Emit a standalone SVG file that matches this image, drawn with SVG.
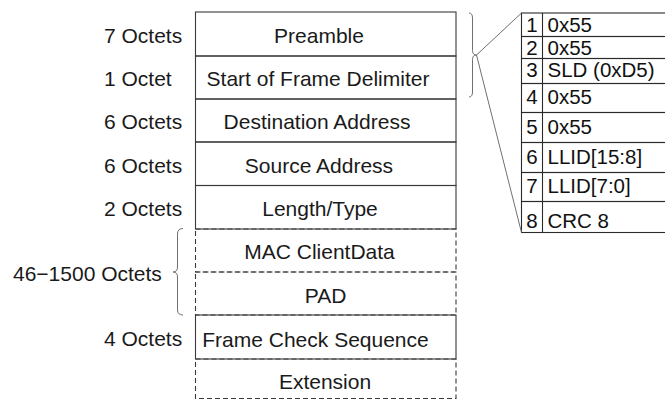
<svg xmlns="http://www.w3.org/2000/svg" width="665" height="399" viewBox="0 0 665 399">
<style>
  .t { font-family: "Liberation Sans", Arial, sans-serif; font-size: 21px; fill: #1a1a1a; }
  .m { text-anchor: middle; }
  .r { font-family: "Liberation Sans", Arial, sans-serif; font-size: 20.5px; fill: #111; }
  .solid { fill: none; stroke: #3a3a3a; stroke-width: 1.1; }
  .dash { fill: none; stroke: #3a3a3a; stroke-width: 1.1; stroke-dasharray: 5 3; }
  .cell { fill: none; stroke: #2a2a2a; stroke-width: 1.1; }
  .conn { fill: none; stroke: #707070; stroke-width: 1; }
</style>
<rect x="0" y="0" width="665" height="399" fill="#ffffff"/>

<g id="labels">
  <text class="t" x="104" y="43">7 Octets</text>
  <text class="t" x="104" y="86">1 Octet</text>
  <text class="t" x="104" y="129">6 Octets</text>
  <text class="t" x="104" y="173">6 Octets</text>
  <text class="t" x="104" y="216">2 Octets</text>
  <text class="t" x="13" y="281">46−1500 Octets</text>
  <text class="t" x="104" y="346">4 Octets</text>
</g>

<g id="preamble">
  <rect class="solid" x="195.5" y="12" width="260.5" height="44"/>
  <text class="t m" x="319" y="43">Preamble</text>
</g>
<g id="sfd">
  <rect class="solid" x="195.5" y="56" width="260.5" height="43"/>
  <text class="t m" x="318" y="86">Start of Frame Delimiter</text>
</g>
<g id="dest">
  <rect class="solid" x="195.5" y="99" width="260.5" height="43"/>
  <text class="t m" x="317" y="129">Destination Address</text>
</g>
<g id="src">
  <rect class="solid" x="195.5" y="142" width="260.5" height="43.5"/>
  <text class="t m" x="319" y="173">Source Address</text>
</g>
<g id="lentype">
  <rect class="solid" x="195.5" y="185.5" width="260.5" height="43.5"/>
  <text class="t m" x="320" y="216">Length/Type</text>
</g>
<g id="macdata">
  <rect class="dash" x="195.5" y="229" width="260.5" height="43"/>
  <text class="t m" x="319.5" y="259">MAC ClientData</text>
</g>
<g id="pad">
  <rect class="dash" x="195.5" y="272" width="260.5" height="43"/>
  <text class="t m" x="325.5" y="303">PAD</text>
</g>
<g id="fcs">
  <rect class="solid" x="195.5" y="315" width="260.5" height="44"/>
  <text class="t m" x="315.5" y="346.5">Frame Check Sequence</text>
</g>
<g id="extension">
  <rect class="dash" x="195.5" y="359" width="260.5" height="39.5"/>
  <text class="t m" x="325" y="389">Extension</text>
</g>

<g id="row1">
  <rect class="cell" x="521.5" y="13" width="160" height="23.5"/>
  <line class="cell" x1="542.5" y1="13" x2="542.5" y2="36.5"/>
  <text class="r m" x="532" y="32">1</text><text class="r" x="547.5" y="32">0x55</text>
</g>
<g id="row2">
  <rect class="cell" x="521.5" y="36.5" width="160" height="22"/>
  <line class="cell" x1="542.5" y1="36.5" x2="542.5" y2="58.5"/>
  <text class="r m" x="532" y="55">2</text><text class="r" x="547.5" y="55">0x55</text>
</g>
<g id="row3">
  <rect class="cell" x="521.5" y="58.5" width="160" height="25"/>
  <line class="cell" x1="542.5" y1="58.5" x2="542.5" y2="83.5"/>
  <text class="r m" x="532" y="77">3</text><text class="r" x="547.5" y="77">SLD (0xD5)</text>
</g>
<g id="row4">
  <rect class="cell" x="521.5" y="83.5" width="160" height="29"/>
  <line class="cell" x1="542.5" y1="83.5" x2="542.5" y2="112.5"/>
  <text class="r m" x="532" y="104">4</text><text class="r" x="547.5" y="104">0x55</text>
</g>
<g id="row5">
  <rect class="cell" x="521.5" y="112.5" width="160" height="30"/>
  <line class="cell" x1="542.5" y1="112.5" x2="542.5" y2="142.5"/>
  <text class="r m" x="532" y="134">5</text><text class="r" x="547.5" y="134">0x55</text>
</g>
<g id="row6">
  <rect class="cell" x="521.5" y="142.5" width="160" height="30"/>
  <line class="cell" x1="542.5" y1="142.5" x2="542.5" y2="172.5"/>
  <text class="r m" x="532" y="164">6</text><text class="r" x="547.5" y="164">LLID[15:8]</text>
</g>
<g id="row7">
  <rect class="cell" x="521.5" y="172.5" width="160" height="29"/>
  <line class="cell" x1="542.5" y1="172.5" x2="542.5" y2="201.5"/>
  <text class="r m" x="532" y="193">7</text><text class="r" x="547.5" y="193">LLID[7:0]</text>
</g>
<g id="row8">
  <rect class="cell" x="521.5" y="201.5" width="160" height="31"/>
  <line class="cell" x1="542.5" y1="201.5" x2="542.5" y2="232.5"/>
  <text class="r m" x="532" y="228">8</text><text class="r" x="547.5" y="228">CRC 8</text>
</g>

<g id="connectors">
  <path class="conn" d="M469,13 Q472.5,13 472.5,18 L472.5,50.5 Q472.5,55 476.5,55 Q472.5,55 472.5,59.5 L472.5,92 Q472.5,97 469,97"/>
  <line class="conn" x1="476.5" y1="55" x2="521.5" y2="13"/>
  <line class="conn" x1="476.5" y1="55" x2="521.5" y2="232.5"/>
  <path class="conn" d="M183,228.5 Q177.5,228.5 177.5,234 L177.5,267 Q177.5,272 173,272 Q177.5,272 177.5,277 L177.5,310 Q177.5,315 183,315"/>
</g>
</svg>
